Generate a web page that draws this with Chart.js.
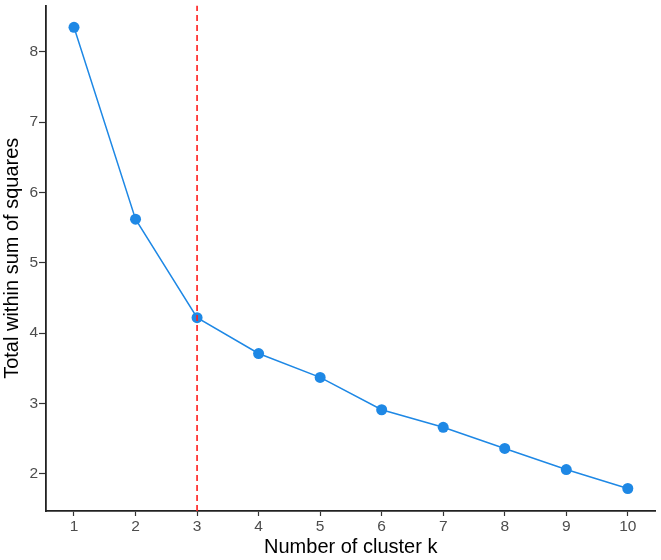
<!DOCTYPE html>
<html>
<head>
<meta charset="utf-8">
<script src="https://cdn.jsdelivr.net/npm/chart.js@4/dist/chart.umd.min.js"></script>
<style>
  html, body { margin: 0; padding: 0; background: #fff; }
  #wrap { width: 661px; height: 560px; }
</style>
</head>
<body>
<div id="wrap"><canvas id="elbow"></canvas></div>
<script>
// number of clusters and total within sum of squares
const kValues = [1, 2, 3, 4, 5, 6, 7, 8, 9, 10];
const wss = [8.35, 5.62, 4.22, 3.71, 3.37, 2.91, 2.66, 2.36, 2.06, 1.79];
const optimalK = 3;
const xTicks = [1, 2, 3, 4, 5, 6, 7, 8, 9, 10];
const yTicks = [2, 3, 4, 5, 6, 7, 8];
const xRange = [0.545, 10.45];
const yRange = [1.47, 8.66];

const fam = "Liberation Sans, Arial, sans-serif";
const tickFont = { family: fam, size: 15.5 };
const titleFont = { family: fam, size: 20 };

const points = kValues.map((k, i) => ({ x: k, y: wss[i] }));

new Chart(document.getElementById("elbow"), {
  type: "line",
  data: {
    datasets: [
      {
        // dashed line at the chosen k
        data: [{ x: optimalK, y: yRange[0] }, { x: optimalK, y: yRange[1] }],
        borderColor: "#ff1a1a",
        borderWidth: 1.6,
        borderDash: [6, 4],
        pointRadius: 0,
        order: 0
      },
      {
        data: points,
        borderColor: "#1e88e5",
        backgroundColor: "#1e88e5",
        borderWidth: 1.5,
        pointRadius: 5.5,
        pointBorderWidth: 0,
        order: 1
      }
    ]
  },
  options: {
    responsive: true,
    maintainAspectRatio: false,
    animation: false,
    layout: { padding: { top: 5, right: 5, left: 0, bottom: 0 } },
    plugins: { legend: { display: false }, tooltip: { enabled: false } },
    scales: {
      x: {
        type: "linear",
        min: xRange[0],
        max: xRange[1],
        afterBuildTicks: (s) => { s.ticks = xTicks.map(v => ({ value: v })); },
        afterFit: (s) => { s.height = 49; s.paddingLeft = 0; s.paddingRight = 0; },
        grid: { drawOnChartArea: false, tickLength: 5, tickWidth: 1.2, color: "#333" },
        border: { display: true, color: "#222", width: 1.8 },
        ticks: { color: "#4d4d4d", font: tickFont, padding: 1, maxRotation: 0 },
        title: { display: true, text: "Number of cluster k", color: "#000", font: titleFont, padding: { top: 0, bottom: 1 } }
      },
      y: {
        type: "linear",
        min: yRange[0],
        max: yRange[1],
        afterBuildTicks: (s) => { s.ticks = yTicks.map(v => ({ value: v })); },
        afterFit: (s) => { s.width = 46; s.paddingTop = 0; s.paddingBottom = 0; },
        grid: { drawOnChartArea: false, tickLength: 7, tickWidth: 1.2, color: "#333" },
        border: { display: true, color: "#222", width: 1.8 },
        ticks: { color: "#4d4d4d", font: tickFont, padding: 1 },
        title: { display: true, text: "Total within sum of squares", color: "#000", font: titleFont, padding: { top: 0, bottom: 0 } }
      }
    }
  }
});
</script>
</body>
</html>
